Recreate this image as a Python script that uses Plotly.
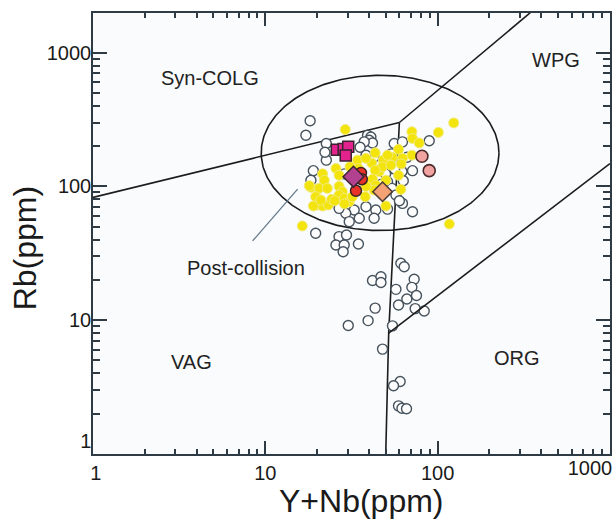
import numpy as np
import plotly.graph_objects as go

# ---------------- data (Y+Nb ppm, Rb ppm) ----------------
open_x = [18.2, 17.2, 22.6, 39.2, 41.0, 40.1, 41.9, 37.5, 56.0, 62.5, 89.4,
          22.6, 19.0, 71.5, 18.4, 51.2, 62.1, 54.0, 52.6, 66.5, 56.3, 49.9, 63.2,
          51.2, 54.3, 57.3, 62.5, 71.5, 43.8, 38.4, 32.8, 29.3, 26.8, 35.1, 42.8, 30.7, 19.6,
          47.3, 60.0, 35.5, 42.7, 22.2, 28.8, 51.2, 38.4,
          26.8, 29.6, 25.7, 28.7, 28.3, 34.7,
          61.2, 64.0, 41.9, 46.9, 46.9, 57.3, 73.1, 70.9, 75.4, 66.3, 59.3, 74.1, 83.6,
          43.4, 39.5, 30.3, 54.7, 47.9, 60.6, 55.5, 59.3, 62.1, 66.0]
open_y = [309, 241, 209, 241, 234, 221, 211, 215, 209, 215, 219,
          157, 131, 131, 111, 132, 129, 175, 151, 165, 135, 124, 110,
          108, 96.6, 86.1, 74.6, 64.6, 66.5, 70.4, 66.5, 62.9, 68.5, 57.7, 57.7, 54.5, 44.6,
          104, 78, 196, 165, 180, 124, 67.6, 171,
          42.1, 43.3, 36.5, 36.5, 32.5, 37.1,
          26.6, 25.1, 19.8, 21.1, 19.1, 17.0, 20.2, 17.6, 15.3, 14.4, 13.0, 12.2, 11.7,
          12.3, 9.93, 9.12, 9.07, 6.08, 3.48, 3.24, 2.29, 2.20, 2.18]

yellow_x = [29.1, 43.4, 59.3, 70.9, 71.5, 78.2, 101, 124, 70.9, 62.5, 48.3, 54.7,
            41.5, 45.8, 47.9, 43.4, 34.3, 34.7, 25.7, 26.8, 21.5, 22.0, 18.4, 20.5,
            22.9, 19.6, 20.1, 21.5, 23.2, 19.0, 21.0, 24.3, 26.8, 28.0, 26.8, 28.7,
            30.7, 32.0, 38.0, 41.9, 43.8, 42.8, 38.4, 50.1, 50.1, 61.2, 59.3, 53.6,
            51.2, 16.4, 117, 38.4, 61.5, 28.8, 25.3, 31.0, 18.0]
yellow_y = [266, 178, 189, 256, 228, 211, 253, 298, 171, 162, 157, 164,
            149, 129, 140, 132, 157, 136, 136, 121, 124, 111, 98.3, 96.6,
            96.6, 83.6, 72.6, 71.3, 72.6, 71.3, 79, 80, 100, 91.2, 86.1, 81.3,
            76.7, 83.6, 83.6, 113, 102, 93.8, 100, 111, 71.3, 94.9, 121, 144,
            171, 50.6, 52.3, 162, 147, 74, 78, 140, 101]

square_x = [26.0, 28.5, 30.3, 29.3]
square_y = [188, 190, 198, 170]

red_x = [35.9, 36.3, 33.6]
red_y = [126, 113, 92.7]

purple_x = [32.5]
purple_y = [118]

orange_x = [47.9]
orange_y = [91.2]

pink_x = [81.1, 89.4]
pink_y = [168, 131]

# field boundaries (Pearce et al. diagram)
vag_colg_x = [1, 60]
vag_colg_y = [82.7, 300]
wpg_x = [60, 345]
wpg_y = [300, 1985]
vert_x = [60, 52, 50]
vert_y = [300, 8, 1]
org_x = [52, 1000]
org_y = [8, 148]
leader_x = [8.44, 15.4]
leader_y = [39.1, 95.5]

# post-collision ellipse (log10 centre and semi-axes)
ell_cx, ell_cy = 1.666, 2.25
ell_ax, ell_ay = 0.69, 0.58

x_ticks = [1, 10, 100]
x_ticktext = ["\u00a01", "10", "100"]
x_end_tick = [1000]
x_end_text = ["1000"]
x_major = [1, 10, 100, 1000]
y_ticks = [1, 10, 100, 1000]
y_ticktext = ["1<br>\u00a0", "10", "100", "1000"]
minor_vals = [m * 10 ** d for d in range(0, 4) for m in range(2, 10)]

labels = ["Syn-COLG", "WPG", "Post-collision", "VAG", "ORG"]
label_x = [4.75, 485, 7.72, 3.75, 287]
label_y = [648, 874, 24.7, 4.87, 5.22]

X_RANGE = [0, 3.0005]
Y_RANGE = [0, 3.2955]

# ---------------- figure ----------------
FONT = "Liberation Sans, Arial, sans-serif"
AX = "#2f3b44"
LINE = "#1c1c1c"

fig = go.Figure()

def add_line(xs, ys, color=LINE, width=1.6, xa="x", ya="y"):
    fig.add_trace(go.Scatter(x=xs, y=ys, mode="lines", xaxis=xa, yaxis=ya,
                             line=dict(color=color, width=width),
                             hoverinfo="skip"))

add_line(vag_colg_x, vag_colg_y)
# these lines live on overlay axes (identical scales) that carry ticks / end label
add_line(wpg_x, wpg_y, xa="x4", ya="y")
add_line(vert_x, vert_y)
add_line(org_x, org_y, xa="x3", ya="y3")
add_line(leader_x, leader_y, color="#5f7585", width=1.2, xa="x2", ya="y2")

t = np.linspace(0, 2 * np.pi, 361)
fig.add_trace(go.Scatter(x=10 ** (ell_cx + ell_ax * np.cos(t)),
                         y=10 ** (ell_cy + ell_ay * np.sin(t)),
                         mode="lines", line=dict(color=LINE, width=1.6),
                         hoverinfo="skip"))

fig.add_trace(go.Scatter(x=open_x, y=open_y, mode="markers",
                         marker=dict(symbol="circle", size=10, color="#fdfdfd",
                                     line=dict(color="#46525c", width=1.4))))
fig.add_trace(go.Scatter(x=yellow_x, y=yellow_y, mode="markers",
                         marker=dict(symbol="circle", size=10, color="#f2e40c",
                                     line=dict(color="#f3eb7a", width=1))))
fig.add_trace(go.Scatter(x=square_x, y=square_y, mode="markers",
                         marker=dict(symbol="square", size=11, color="#e3238d",
                                     line=dict(color="#3a2430", width=1.5))))
fig.add_trace(go.Scatter(x=red_x, y=red_y, mode="markers",
                         marker=dict(symbol="circle", size=11, color="#ea3328",
                                     line=dict(color="#3b2424", width=1.5))))
fig.add_trace(go.Scatter(x=purple_x, y=purple_y, mode="markers",
                         marker=dict(symbol="diamond", size=16, color="#b2428f",
                                     line=dict(color="#3a2430", width=1.5))))
fig.add_trace(go.Scatter(x=orange_x, y=orange_y, mode="markers",
                         marker=dict(symbol="diamond", size=15, color="#f4a273",
                                     line=dict(color="#4a3a34", width=1.5))))
fig.add_trace(go.Scatter(x=pink_x, y=pink_y, mode="markers",
                         marker=dict(symbol="circle", size=12, color="#f0a3a1",
                                     line=dict(color="#4a2a2a", width=1.6))))

for txt, lx, ly in zip(labels, label_x, label_y):
    fig.add_annotation(x=np.log10(lx), y=np.log10(ly), text=txt, showarrow=False,
                       font=dict(family=FONT, size=20, color="#222222"),
                       xanchor="center", yanchor="middle")

fig.add_annotation(xref="paper", yref="paper", x=0.52, y=-0.106,
                   text="Y+Nb(ppm)", showarrow=False, xanchor="center", yanchor="middle",
                   font=dict(family=FONT, size=32, color="#1a1a1a"))
fig.add_annotation(xref="paper", yref="paper", x=-0.13, y=0.466,
                   text="Rb(ppm)", showarrow=False, textangle=-90,
                   xanchor="center", yanchor="middle",
                   font=dict(family=FONT, size=32, color="#1a1a1a"))

tickfont = dict(family=FONT, size=20, color="#1a1a1a")

def tick_axis(rng, vals, length, overlay, anchor):
    return dict(type="log", range=rng, overlaying=overlay, anchor=anchor,
                showgrid=False, zeroline=False, showline=False, mirror="ticks",
                ticks="inside", ticklen=length, tickwidth=1.5, tickcolor=AX,
                tickmode="array", tickvals=vals, showticklabels=False,
                automargin=False)

fig.update_layout(
    width=616, height=527, margin=dict(l=93, r=6, t=13, b=73, autoexpand=False),
    paper_bgcolor="#ffffff", plot_bgcolor="#f9fbfd", showlegend=False,
    xaxis=dict(type="log", range=X_RANGE, showgrid=False, zeroline=False,
               showline=True, linecolor=AX, linewidth=1.5, mirror=True,
               ticks="", tickmode="array", tickvals=x_ticks, ticktext=x_ticktext,
               tickfont=tickfont, automargin=False, ticklabeloverflow="allow"),
    yaxis=dict(type="log", range=Y_RANGE, showgrid=False, zeroline=False,
               showline=True, linecolor=AX, linewidth=1.5, mirror=True,
               ticks="", tickmode="array", tickvals=y_ticks, ticktext=y_ticktext,
               tickfont=tickfont, automargin=False, ticklabeloverflow="allow",
               ticklabelstandoff=-4),
    xaxis2=tick_axis(X_RANGE, x_major, 13, "x", "y2"),
    yaxis2=tick_axis(Y_RANGE, y_ticks, 14, "y", "x2"),
    xaxis3=tick_axis(X_RANGE, minor_vals, 5, "x", "y3"),
    yaxis3=tick_axis(Y_RANGE, minor_vals, 7, "y", "x3"),
    xaxis4=dict(type="log", range=X_RANGE, overlaying="x", anchor="y",
                showgrid=False, zeroline=False, showline=False, ticks="",
                tickmode="array", tickvals=x_end_tick, ticktext=x_end_text,
                tickfont=tickfont, automargin=False, ticklabeloverflow="allow",
                ticklabelshift=-20),
)

fig.write_html("out.html",
               config={"displayModeBar": False},
               post_script="document.body.style.margin='0';document.body.style.padding='0';")
